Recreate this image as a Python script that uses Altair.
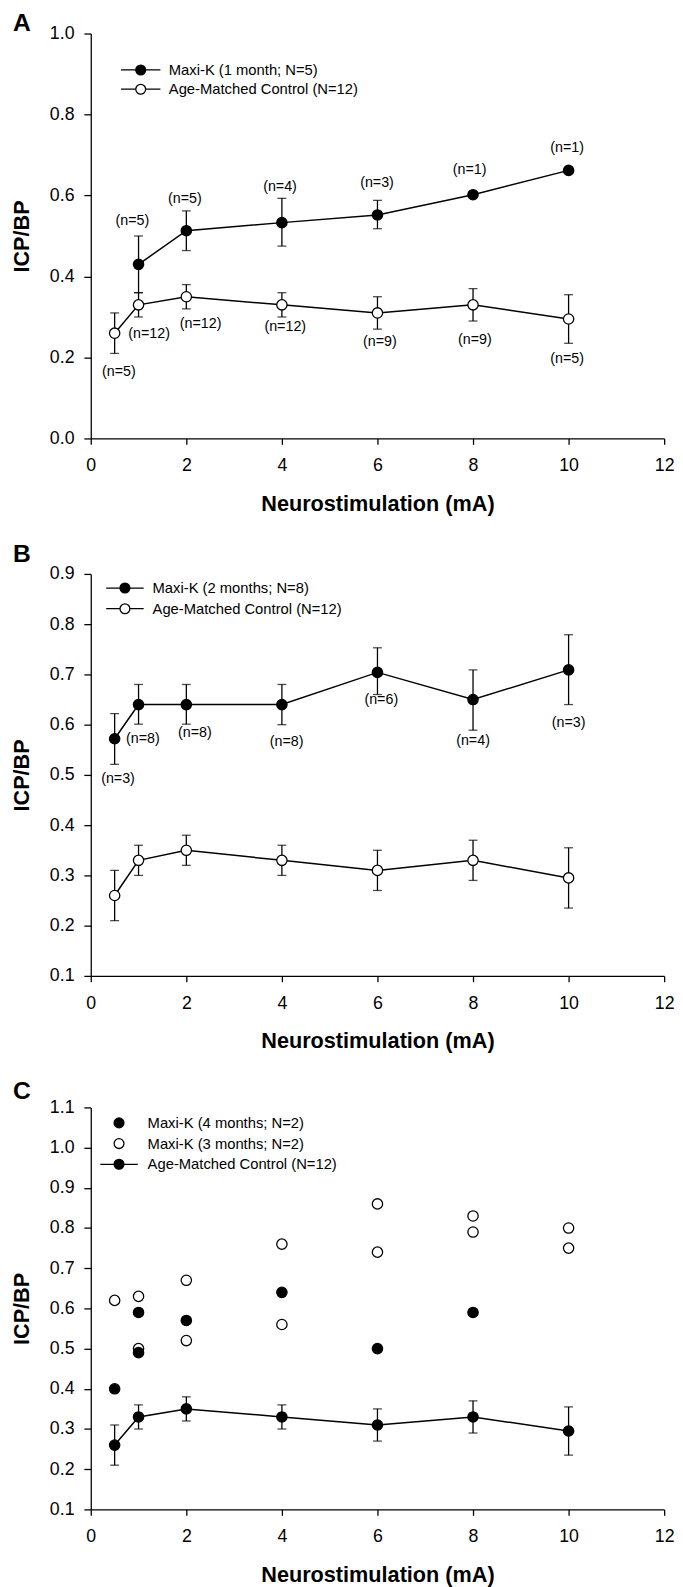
import altair as alt
import pandas as pd

FONT = "Liberation Sans"

# ---------------- data ----------------
ctrl_name = "Age-Matched Control (N=12)"
ctrl_x = [0.5, 1, 2, 4, 6, 8, 10]
ctrl_y = [0.26, 0.33, 0.35, 0.33, 0.31, 0.33, 0.295]
ctrl_lo = [0.21, 0.30, 0.32, 0.30, 0.27, 0.29, 0.235]
ctrl_hi = [0.31, 0.36, 0.38, 0.36, 0.35, 0.37, 0.355]

# Panel A
a_name = "Maxi-K (1 month; N=5)"
a_x = [1, 2, 4, 6, 8, 10]
a_y = [0.43, 0.513, 0.533, 0.552, 0.602, 0.662]
a_lo = [0.36, 0.464, 0.475, 0.518, None, None]
a_hi = [0.50, 0.562, 0.593, 0.588, None, None]
a_lab = ["(n=5)", "(n=5)", "(n=4)", "(n=3)", "(n=1)", "(n=1)"]
a_lab_x = [0.87, 1.97, 3.96, 5.99, 7.93, 9.97]
a_lab_y = [0.537, 0.59, 0.62, 0.631, 0.664, 0.717]
a_ctrl_lab = ["(n=5)", "(n=12)", "(n=12)", "(n=12)", "(n=9)", "(n=9)", "(n=5)"]
a_ctrl_lab_x = [0.59, 1.22, 2.3, 4.07, 6.05, 8.04, 9.97]
a_ctrl_lab_y = [0.164, 0.259, 0.283, 0.275, 0.237, 0.243, 0.196]

# Panel B
b_name = "Maxi-K (2 months; N=8)"
b_x = [0.5, 1, 2, 4, 6, 8, 10]
b_y = [0.572, 0.64, 0.64, 0.64, 0.704, 0.65, 0.709]
b_lo = [0.521, 0.601, 0.601, 0.60, 0.66, 0.589, 0.64]
b_hi = [0.622, 0.68, 0.68, 0.68, 0.753, 0.709, 0.779]
b_lab = ["(n=3)", "(n=8)", "(n=8)", "(n=8)", "(n=6)", "(n=4)", "(n=3)"]
b_lab_x = [0.57, 1.09, 2.18, 4.1, 6.08, 8.0, 10.0]
b_lab_y = [0.491, 0.571, 0.583, 0.566, 0.648, 0.568, 0.604]

# Panel C
c4_name = "Maxi-K (4 months; N=2)"
c4_x = [0.5, 1, 1, 2, 4, 6, 8]
c4_y = [0.40, 0.59, 0.49, 0.57, 0.64, 0.50, 0.59]
c3_name = "Maxi-K (3 months; N=2)"
c3_x = [0.5, 1, 1, 2, 2, 4, 4, 6, 6, 8, 8, 10, 10]
c3_y = [0.62, 0.63, 0.50, 0.67, 0.52, 0.76, 0.56, 0.86, 0.74, 0.83, 0.79, 0.80, 0.75]

x_ticks = [0, 2, 4, 6, 8, 10, 12]
a_yticks = [0.0, 0.2, 0.4, 0.6, 0.8, 1.0]
b_yticks = [0.1, 0.2, 0.3, 0.4, 0.5, 0.6, 0.7, 0.8, 0.9]
c_yticks = [0.1, 0.2, 0.3, 0.4, 0.5, 0.6, 0.7, 0.8, 0.9, 1.0, 1.1]

# ---------------- legend symbols (custom SVG paths) ----------------
R = 1.0


def circle_path():
    return f"M{-R} 0 A{R} {R} 0 1 0 {R} 0 A{R} {R} 0 1 0 {-R} 0 Z"


def line_circle_path(L):
    return f"M{-L} 0 L{-R} 0 M{R} 0 L{L} 0 " + circle_path()


W = 582


def build_panel(letter, ydom, yticks, height, title_offset,
                series_field, legend_names, legend_shapes, legend_fills,
                leg_x, leg_y, lab_off, row_pad, layers_spec):
    xs = alt.Scale(domain=[0, 12], nice=False, zero=False)
    ys = alt.Scale(domain=ydom, nice=False, zero=False)
    xax = alt.Axis(values=x_ticks, format="d", title="Neurostimulation (mA)",
                   tickSize=6, labelPadding=13, titlePadding=19, labelFlush=False)
    yax = alt.Axis(values=yticks, format=".1f", title="ICP/BP",
                   tickSize=7, labelPadding=10, titlePadding=16, labelFlush=False)
    X = lambda f: alt.X(f, type="quantitative", scale=xs, axis=xax)
    Y = lambda f: alt.Y(f, type="quantitative", scale=ys, axis=yax)

    layers = []
    for kind, df, extra in layers_spec:
        base = alt.Chart(df)
        if kind == "err":
            layers.append(base.mark_rule(color="black", strokeWidth=1.3).encode(
                x=X("x"), y=Y("lo"), y2="hi"))
            for f in ("lo", "hi"):
                layers.append(base.mark_tick(orient="horizontal", color="black",
                                             size=9, thickness=1.3).encode(
                    x=X("x"), y=Y(f)))
        elif kind == "line":
            layers.append(base.mark_line(color="black", strokeWidth=1.5).encode(
                x=X("x"), y=Y("y"), order="x:Q"))
        elif kind == "pts":
            layers.append(base.mark_point(shape="circle", filled=True, fill=extra,
                                          stroke="black", strokeWidth=1.3,
                                          size=110, opacity=1).encode(
                x=X("x"), y=Y("y")))
        elif kind == "lab":
            layers.append(base.mark_text(font=FONT, fontSize=14.5, color="black",
                                         align="center", baseline="middle").encode(
                x=X("x"), y=Y("y"), text="t:N"))

    # legend-only layer (no drawable rows: positions are null)
    leg_df = pd.DataFrame({series_field: legend_names,
                           "x": [None] * len(legend_names),
                           "y": [None] * len(legend_names)})
    legend = alt.Legend(title=None, orient="none", legendX=leg_x, legendY=leg_y,
                        symbolSize=100, symbolStrokeWidth=1.3,
                        symbolStrokeColor="black", symbolOpacity=1,
                        labelFont=FONT, labelFontSize=15, labelColor="black",
                        labelLimit=400, labelOffset=lab_off, rowPadding=row_pad,
                        padding=0, direction="vertical")
    layers.append(alt.Chart(leg_df).mark_point(filled=True, strokeWidth=1.3,
                                               opacity=1).encode(
        x=X("x"), y=Y("y"),
        shape=alt.Shape(f"{series_field}:N",
                        scale=alt.Scale(domain=legend_names, range=legend_shapes),
                        legend=legend),
        fill=alt.Fill(f"{series_field}:N",
                      scale=alt.Scale(domain=legend_names, range=legend_fills),
                      legend=legend),
        stroke=alt.Stroke(f"{series_field}:N",
                          scale=alt.Scale(domain=legend_names,
                                          range=["black"] * len(legend_names)),
                          legend=legend),
    ))

    return alt.layer(*layers).properties(
        width=W, height=height,
        title=alt.TitleParams(text=letter, anchor="start", frame="group",
                              fontSize=25, fontWeight="bold", font=FONT,
                              color="black", dx=-79, offset=title_offset,
                              baseline="alphabetic"),
    )


ctrl_df = pd.DataFrame({"x": ctrl_x, "y": ctrl_y, "lo": ctrl_lo, "hi": ctrl_hi})

# ---- Panel A ----
a_df = pd.DataFrame({"x": a_x, "y": a_y, "lo": a_lo, "hi": a_hi})
a_err = a_df.dropna()
a_lab_df = pd.DataFrame({"x": a_lab_x + a_ctrl_lab_x, "y": a_lab_y + a_ctrl_lab_y,
                         "t": a_lab + a_ctrl_lab})
panelA = build_panel(
    "A", [0, 1.0], a_yticks, 411, -31, "sA",
    [a_name, ctrl_name],
    [line_circle_path(4.0), line_circle_path(4.0)], ["black", "white"],
    43.2, 29.5, 21, 2.5,
    [("err", ctrl_df, None), ("err", a_err, None),
     ("line", ctrl_df, None), ("line", a_df, None),
     ("pts", ctrl_df, "white"), ("pts", a_df, "black"),
     ("lab", a_lab_df, None)])

# ---- Panel B ----
b_df = pd.DataFrame({"x": b_x, "y": b_y, "lo": b_lo, "hi": b_hi})
b_lab_df = pd.DataFrame({"x": b_lab_x, "y": b_lab_y, "t": b_lab})
panelB = build_panel(
    "B", [0.1, 0.9], b_yticks, 408, -21.5, "sB",
    [b_name, ctrl_name],
    [line_circle_path(3.8), line_circle_path(3.8)], ["black", "white"],
    27.2, 6.8, 20.5, 4,
    [("err", ctrl_df, None), ("err", b_df, None),
     ("line", ctrl_df, None), ("line", b_df, None),
     ("pts", ctrl_df, "white"), ("pts", b_df, "black"),
     ("lab", b_lab_df, None)])

# ---- Panel C ----
c4_df = pd.DataFrame({"x": c4_x, "y": c4_y})
c3_df = pd.DataFrame({"x": c3_x, "y": c3_y})
panelC = build_panel(
    "C", [0.1, 1.1], c_yticks, 408, -25, "sC",
    [c4_name, c3_name, ctrl_name],
    [circle_path(), circle_path(), line_circle_path(3.8)],
    ["black", "white", "black"],
    21.2, 8.2, 21.5, 4,
    [("err", ctrl_df, None), ("line", ctrl_df, None),
     ("pts", ctrl_df, "black"),
     ("pts", c3_df, "white"), ("pts", c4_df, "black")])

chart = alt.vconcat(panelA, panelB, panelC, spacing=27.5).resolve_scale(
    x="independent", y="independent", fill="independent", shape="independent",
    stroke="independent"
).properties(
    padding={"left": 2, "top": -9, "right": 0, "bottom": 0}
).configure_view(stroke=None).configure_axis(
    grid=False, domainColor="black", tickColor="black", domainWidth=1.3,
    tickWidth=1.3, labelFont=FONT, labelFontSize=18, labelColor="black",
    titleFont=FONT, titleFontSize=22, titleFontWeight="bold", titleColor="black",
)

chart.save("out.html", embed_options={"renderer": "svg", "actions": False})
